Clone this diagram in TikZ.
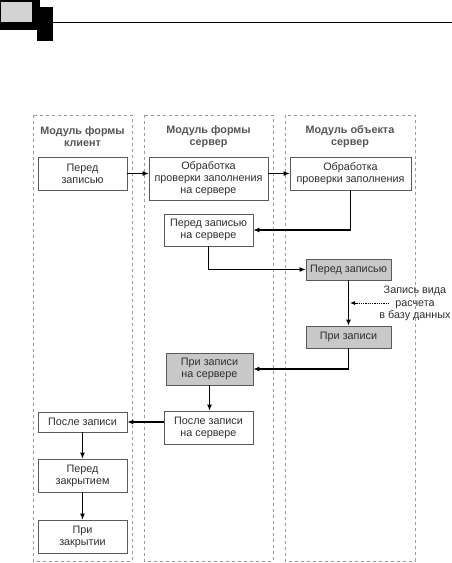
\documentclass[tikz,border=0pt]{standalone}
\usepackage{fontspec}
\setmainfont{Liberation Sans}
\usetikzlibrary{arrows.meta,calc,positioning}
\definecolor{Ink}{HTML}{2E2E2E}
\definecolor{Frame}{HTML}{5A5A5A}
\definecolor{Lane}{HTML}{9A9A9A}
\definecolor{Shade}{HTML}{C8C8C8}
\definecolor{Head}{HTML}{555555}

\begin{document}
\begin{tikzpicture}[x=1pt,y=-1pt,
          lane/.style={draw=Lane,dashed,line width=0.8pt},
          lanehead/.style={font=\bfseries\fontsize{10.8}{12}\selectfont,text=Head,align=center},
          stage/.style={draw=Frame,fill=white,line width=0.7pt,inner sep=1pt,
            minimum width=89pt,minimum height=33pt,font=\fontsize{10.8}{12}\selectfont,
            text=Ink,align=center},
          event/.style={stage,fill=Shade},
          flow/.style={-{Latex[length=6pt,width=5pt]},draw=black,line width=1.1pt},
          dotflow/.style={-{Latex[length=5pt,width=4pt]},draw=black,line width=0.8pt,
            dash pattern=on 1pt off 0.8pt}]
        \useasboundingbox (0,0) rectangle (452,563);
        % page header
        \fill[black] (0,0) rectangle (40,30);
        \fill[black] (37,7) rectangle (53,41);
        \fill[Shade!80!white] (1,2) rectangle (32,22);
        \draw[black,line width=0.8pt] (53,22) -- (452,22);
        % lanes
        \draw[lane] (33,115) rectangle (132,561);
        \draw[lane] (144,115) rectangle (273,561);
        \draw[lane] (285,115) rectangle (415,561);
        \node[lanehead] (hclient) at (82.5,137) {Модуль формы\\клиент};
        \node[lanehead] (hserver) at (208.5,137) {Модуль формы\\сервер};
        \node[lanehead] (hobject) at (350,137) {Модуль объекта\\сервер};
        % stages
        \node[stage] (before) at (82.5,173.5) {Перед\\записью};
        \node[stage,minimum width=119pt,minimum height=43pt] (fillsrv) at (208.5,178.5)
          {Обработка\\проверки заполнения\\на сервере};
        \node[stage,minimum width=121pt] (fillobj) at (350.5,173.5) {Обработка\\проверки заполнения};
        \node[stage,minimum height=32pt] (beforesrv) at (208.5,230) {Перед записью\\на сервере};
        \node[event,minimum width=85pt,minimum height=21pt] (beforeobj) at (348.5,269.5) {Перед записью};
        \node[event,minimum width=85pt,minimum height=22pt] (onobj) at (348.5,337) {При записи};
        \node[event,minimum width=87pt,minimum height=32pt] (onsrv) at (209.5,369) {При записи\\на сервере};
        \node[stage] (aftersrv) at (208.5,427.5) {После записи\\на сервере};
        \node[stage,minimum height=20pt] (after) at (82.5,422) {После записи};
        \node[stage] (beforeclose) at (82.5,475.5) {Перед\\закрытием};
        \node[stage] (onclose) at (82.5,536.5) {При\\закрытии};
        \node[font=\fontsize{10.8}{12.5}\selectfont,text=Ink,align=center] (dbnote) at (415,303.5)
          {Запись вида\\расчета\\в базу данных};
        \coordinate (dbfrom) at (389,303);
        % connectors
        \draw[flow] (before.east) -- (before.east -| fillsrv.west);
        \draw[flow] (before.east -| fillsrv.east) -- (fillobj.west);
        \draw[flow] (fillobj.south) |- (beforesrv.east);
        \draw[flow] (beforesrv.south) |- (beforeobj.west);
        \draw[flow] (beforeobj.south) -- (onobj.north);
        \draw[flow] (onobj.south) |- (onsrv.east);
        \draw[flow] (onsrv.south) -- (onsrv.south |- aftersrv.north);
        \draw[flow] (aftersrv.west |- after.east) -- (after.east);
        \draw[flow] (after.south) -- (beforeclose.north);
        \draw[flow] (beforeclose.south) -- (onclose.north);
        \draw[dotflow] (dbfrom) -- ($(dbfrom -| onobj.north)+(1.5,0)$);
      \end{tikzpicture}
\end{document}
